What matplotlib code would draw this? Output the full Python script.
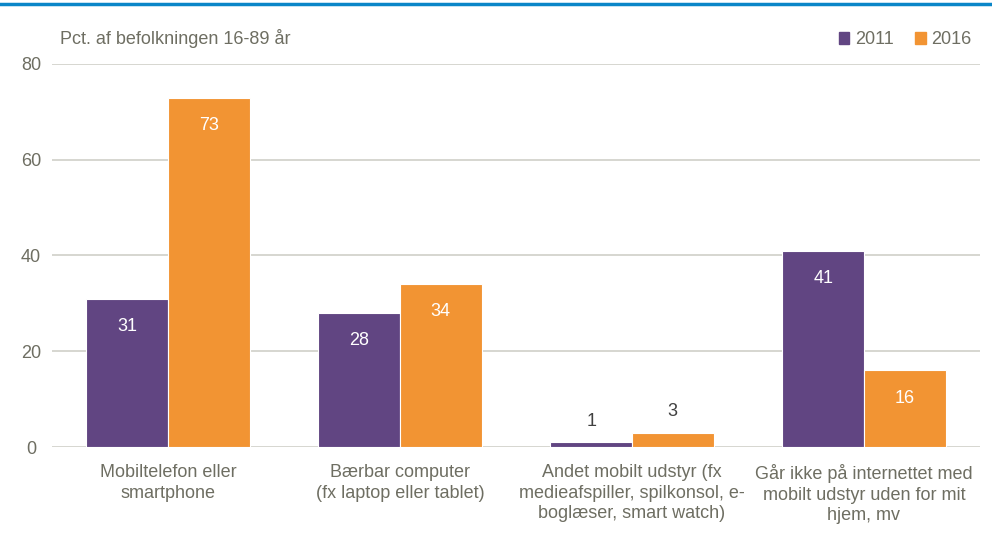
import matplotlib
matplotlib.use("Agg")
import matplotlib.pyplot as plt
from matplotlib.font_manager import fontManager

names = {f.name for f in fontManager.ttflist}
FAM = ['Liberation Sans Narrow', 'Liberation Sans', 'DejaVu Sans'] if 'Liberation Sans Narrow' in names else ['Liberation Sans', 'DejaVu Sans']
plt.rcParams['font.family'] = FAM

categories = ["Mobiltelefon eller\nsmartphone",
              "Bærbar computer\n(fx laptop eller tablet)",
              "Andet mobilt udstyr (fx\nmedieafspiller, spilkonsol, e-\nboglæser, smart watch)",
              "Går ikke på internettet med\nmobilt udstyr uden for mit\nhjem, mv"]
v2011 = [31, 28, 1, 41]
v2016 = [73, 34, 3, 16]
yticks = [0, 20, 40, 60, 80]

PURPLE = '#614582'
ORANGE = '#f29433'
TXT = '#6e6e62'
GRID = '#cfcfc8'

fig = plt.figure(figsize=(9.92, 5.38), dpi=100)
ax = fig.add_axes([52/992, 1-447/538, 928/992, 383/538])

x = list(range(len(categories)))
w = 0.352
b1 = ax.bar([i - w/2 for i in x], v2011, width=w, color=PURPLE, edgecolor='white', linewidth=0.8, zorder=3)
b2 = ax.bar([i + w/2 for i in x], v2016, width=w, color=ORANGE, edgecolor='white', linewidth=0.8, zorder=3)

for bars, vals in ((b1, v2011), (b2, v2016)):
    for r, v in zip(bars, vals):
        cx = r.get_x() + r.get_width()/2
        if v >= 10:
            ax.text(cx, v - 5.8, str(v), ha='center', va='center', color='white', fontsize=13, zorder=4)
        else:
            ax.text(cx, v + 4.4, str(v), ha='center', va='center', color='#404040', fontsize=13, zorder=4)

ax.set_xlim(-0.5, 3.5)
ax.set_ylim(0, 80)
ax.set_yticks(yticks)
ax.set_yticklabels([str(t) for t in yticks])
ax.yaxis.grid(True, color=GRID, linewidth=1.2, zorder=0)
ax.set_axisbelow(True)
for s in ax.spines.values():
    s.set_visible(False)
ax.tick_params(axis='y', length=0, pad=15, labelsize=13, labelcolor=TXT)
for t in ax.get_yticklabels():
    t.set_horizontalalignment('center')
ax.set_xticks(x)
ax.set_xticklabels(categories, fontsize=13, color=TXT, linespacing=1.3)
ax.tick_params(axis='x', length=0, pad=12)

fig.text(60/992, 1-38/538, "Pct. af befolkningen 16-89 år", fontsize=13, color=TXT, va='center', ha='left')

# legend
from matplotlib.patches import Patch
handles = [Patch(color=PURPLE, label='2011'), Patch(color=ORANGE, label='2016')]
leg = fig.legend(handles=handles, loc='center right', bbox_to_anchor=(988/992, 1-40/538), ncol=2,
                 frameon=False, fontsize=13, handlelength=0.6, handleheight=0.6, handletextpad=0.3,
                 columnspacing=1.2, labelcolor=TXT)

# top blue line
fig.add_artist(plt.Line2D([0, 1], [1-4/538, 1-4/538], color='#0a86c8', linewidth=2.5, transform=fig.transFigure))

fig.savefig('out.png', dpi=100, facecolor='white')
